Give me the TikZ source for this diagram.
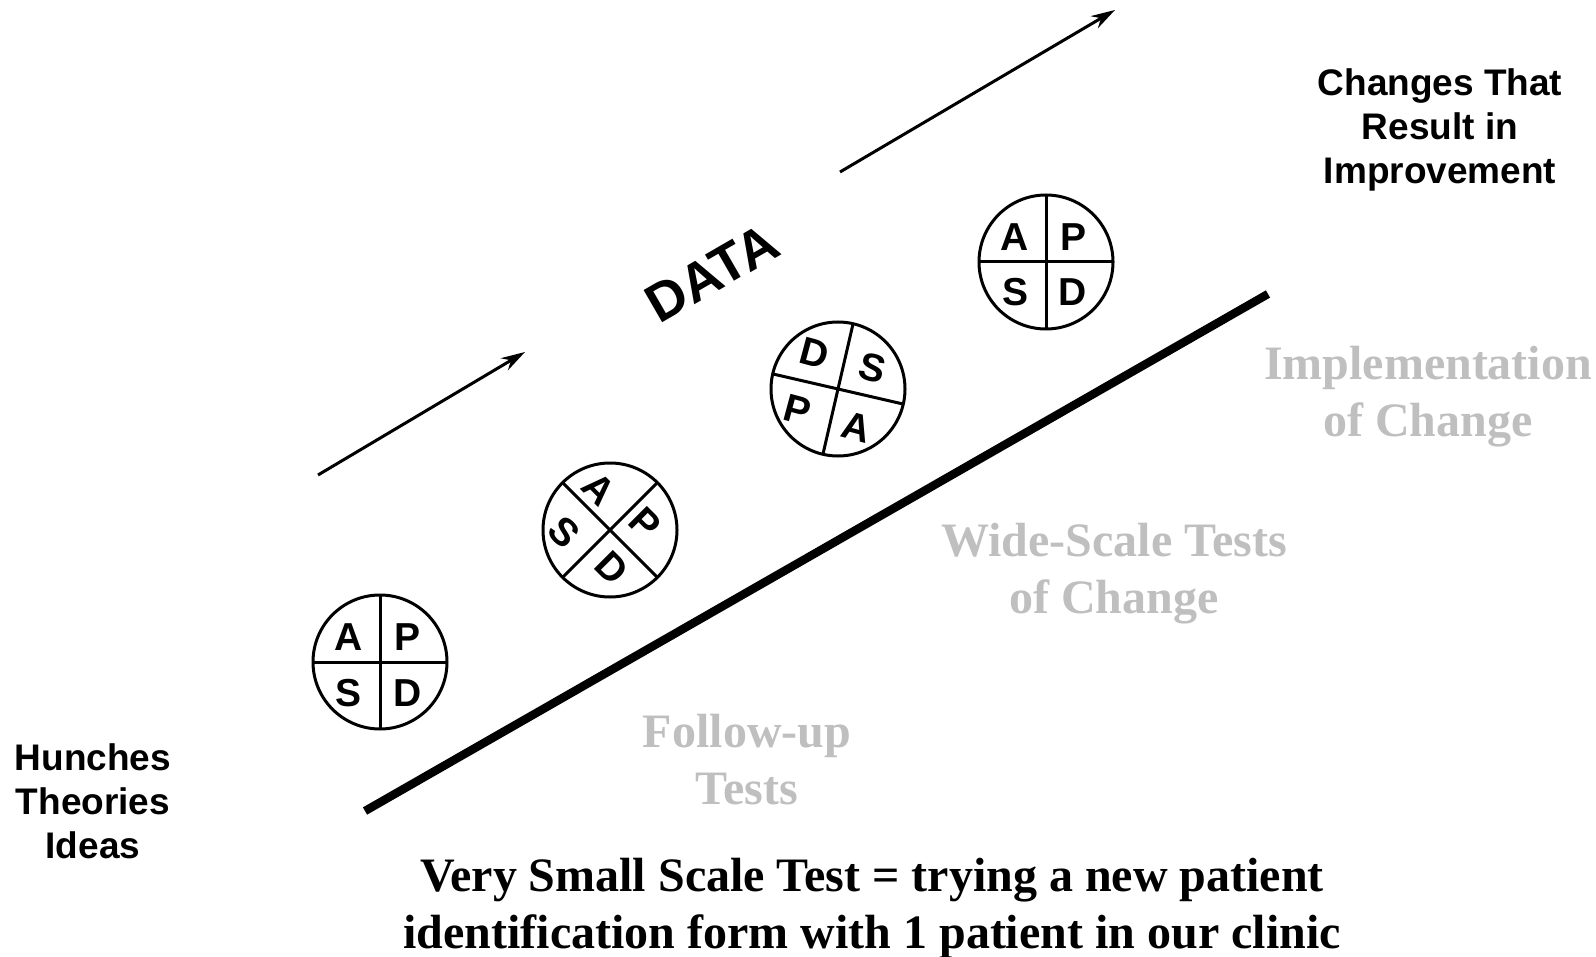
\documentclass[tikz,border=0pt]{standalone}
\usepackage{fontspec}
\setmainfont{Liberation Serif}
\newfontfamily\arialf{Liberation Sans}
\usetikzlibrary{arrows.meta}
\definecolor{lightgraytext}{RGB}{191,191,191}
\begin{document}
\begin{tikzpicture}[x=0.5pt,y=-0.5pt,
  pdca/.style={circle,draw,line width=1.5pt,minimum size=67pt,inner sep=0pt,outer sep=0pt},
  letter/.style={font=\arialf\bfseries\fontsize{19.5}{22}\selectfont, inner sep=0pt},
  sanstext/.style={font=\arialf\bfseries\fontsize{18.5}{22}\selectfont, align=center, inner sep=0pt},
  graytext/.style={font=\bfseries\fontsize{24}{28.5}\selectfont, text=lightgraytext, align=center, inner sep=0pt},
  bottomtext/.style={font=\bfseries\fontsize{24}{28.5}\selectfont, align=center, inner sep=0pt},
  quad/.style={line width=1.5pt},
  arrowline/.style={line width=1.5pt,-{Stealth[length=12pt,width=7pt]}},
  thickline/.style={line width=4.2pt},
]
\useasboundingbox (0,0) rectangle (1596,957);

% arrows and thick line
\coordinate (a1s) at (318,475); \coordinate (a1e) at (525,352);
\coordinate (a2s) at (840,172); \coordinate (a2e) at (1115,10);
\coordinate (ts) at (365,811); \coordinate (te) at (1268,294);
\draw[arrowline] (a1s) -- (a1e);
\draw[arrowline] (a2s) -- (a2e);
\draw[thickline] (ts) -- (te);

% DATA
\node[font=\arialf\bfseries\fontsize{27}{30}\selectfont, rotate=30, inner sep=0pt] (data) at (712,273) {DATA};

% circle 1
\node[pdca] (c1) at (380,662) {};
\draw[quad] (c1.north) -- (c1.south);
\draw[quad] (c1.west) -- (c1.east);
\node[letter] (c1A) at (349,637) {A};
\node[letter] (c1P) at (408,637) {P};
\node[letter] (c1S) at (349,693) {S};
\node[letter] (c1D) at (408,693) {D};

% circle 2
\node[pdca] (c2) at (610,530) {};
\draw[quad] (c2.135) -- (c2.-45);
\draw[quad] (c2.45) -- (c2.225);
\node[letter, rotate=-45] (c2A) at (599,489) {A};
\node[letter, rotate=-45] (c2P) at (645,523) {P};
\node[letter, rotate=-45] (c2D) at (612,568) {D};
\node[letter, rotate=-45] (c2S) at (564,532) {S};

% circle 3
\node[pdca] (c3) at (838,389) {};
\draw[quad] (c3.167) -- (c3.-13);
\draw[quad] (c3.77) -- (c3.257);
\node[letter, rotate=-15] (c3D) at (815,353) {D};
\node[letter, rotate=-15] (c3S) at (873,368) {S};
\node[letter, rotate=-15] (c3P) at (798,410) {P};
\node[letter, rotate=-15] (c3A) at (857,427) {A};

% circle 4
\node[pdca] (c4) at (1046,262) {};
\draw[quad] (c4.north) -- (c4.south);
\draw[quad] (c4.west) -- (c4.east);
\node[letter] (c4A) at (1015,237) {A};
\node[letter] (c4P) at (1073,237) {P};
\node[letter] (c4S) at (1015,292) {S};
\node[letter] (c4D) at (1073,292) {D};

% texts
\node[sanstext] (changes) at (1440,130) {Changes That\\Result in\\Improvement};
\node[sanstext] (hunches) at (93,801) {Hunches\\Theories\\Ideas};
\node[graytext] (impl) at (1428,397) {Implementation\\of Change};
\node[graytext] (wide) at (1114,574) {Wide-Scale Tests\\of Change};
\node[graytext] (follow) at (747,760) {Follow-up\\Tests};
\node[bottomtext] (bottom) at (872,908) {Very Small Scale Test = trying a new patient\\identification form with 1 patient in our clinic};
\end{tikzpicture}
\end{document}
